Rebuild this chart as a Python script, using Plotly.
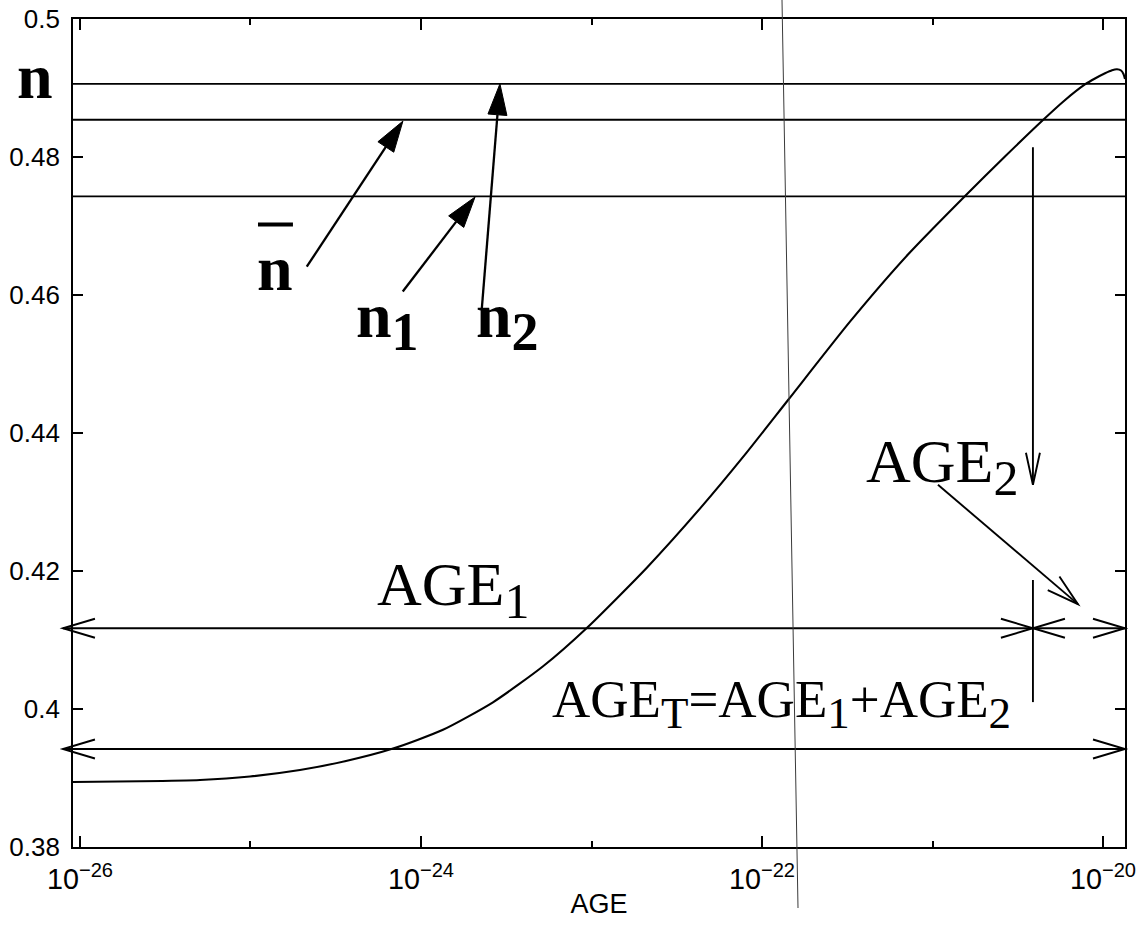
import math
import plotly.graph_objects as go

# ---- data ---------------------------------------------------------------
# n as a function of AGE; AGE is kept as its base-10 exponent
log_age = [-26.041, -25.648, -25.296, -25.003, -24.710, -24.446, -24.164, -23.871,
           -23.578, -23.284, -23.026, -22.674, -22.364, -22.100, -21.847, -21.484,
           -21.144, -20.809, -20.575, -20.352, -20.229, -20.106, -20.047, -19.988,
           -19.947, -19.918, -19.894, -19.880, -19.871]
n_curve = [0.38942, 0.38952, 0.38971, 0.39022, 0.39116, 0.39242, 0.39426, 0.39699,
           0.40097, 0.40619, 0.41178, 0.42052, 0.42904, 0.43686, 0.44478, 0.45613,
           0.46586, 0.47435, 0.48007, 0.48536, 0.48812, 0.49051, 0.49138, 0.49214,
           0.49258, 0.49272, 0.49254, 0.49203, 0.49130]

# reference levels of n
n_2 = 0.4906
n_bar = 0.4854
n_1 = 0.4743

# AGE span arrows: their levels and the AGE exponent splitting AGE1 / AGE2
age1_level = 0.4117
aget_level = 0.3942
age_split = -20.411

# ticks
x_tick_step = 2          # a labelled tick every second decade
y_ticks = [0.38, 0.40, 0.42, 0.44, 0.46, 0.48, 0.50]
y_tick_text = ["0.38", "0.4", "0.42", "0.44", "0.46", "0.48", "0.5"]

# ---- geometry -----------------------------------------------------------
FIG_W, FIG_H = 1137, 929
M_L, M_R, M_T, M_B = 73, 12, 19, 82
X_RANGE = (-26.041, -19.871)
Y_RANGE = (0.38, 0.50)
PLOT_W = FIG_W - M_L - M_R
PLOT_H = FIG_H - M_T - M_B
ARROW_LEFT = -26.10          # open arrow tips poke just past the left axis
ARROW_RIGHT = X_RANGE[1]


def to_px(e, v):
    """data (exponent, n) -> pixel position on the page"""
    x = M_L + (e - X_RANGE[0]) / (X_RANGE[1] - X_RANGE[0]) * PLOT_W
    y = M_T + (Y_RANGE[1] - v) / (Y_RANGE[1] - Y_RANGE[0]) * PLOT_H
    return x, y


def to_paper(x, y):
    return (x - M_L) / PLOT_W, (FIG_H - M_B - y) / PLOT_H


shapes = []
annotations = []
INK = "black"


def seg(p0, p1, width=1.9, color=INK):
    a, b = to_paper(*p0)
    c, d = to_paper(*p1)
    shapes.append(dict(type="line", xref="paper", yref="paper", x0=a, y0=b,
                       x1=c, y1=d, line=dict(color=color, width=width),
                       layer="above"))


def head(tail, tip, filled=False, length=32, half=9.5):
    """arrow head at `tip`, pointing away from `tail` (both in data units)"""
    x0, y0 = to_px(*tail)
    x1, y1 = to_px(*tip)
    d = math.hypot(x1 - x0, y1 - y0)
    ux, uy = (x1 - x0) / d, (y1 - y0) / d
    bx, by = x1 - length * ux, y1 - length * uy
    pts = [(bx - half * uy, by + half * ux), (x1, y1), (bx + half * uy, by - half * ux)]
    pp = [to_paper(*p) for p in pts]
    path = "M{:.5f},{:.5f} L{:.5f},{:.5f} L{:.5f},{:.5f}".format(
        pp[0][0], pp[0][1], pp[1][0], pp[1][1], pp[2][0], pp[2][1])
    if filled:
        path += " Z"
    shapes.append(dict(type="path", path=path, xref="paper", yref="paper",
                       line=dict(color=INK, width=1 if filled else 1.9),
                       fillcolor=INK if filled else "rgba(0,0,0,0)",
                       layer="above"))
    return bx, by


def arrow(tail, tip, filled=False, length=32, half=9.5):
    base = head(tail, tip, filled, length, half)
    seg(to_px(*tail), base if filled else to_px(*tip),
        width=2.3 if filled else 1.9)


def span(e0, e1, level):
    """horizontal double-headed open arrow"""
    seg(to_px(e0, level), to_px(e1, level))
    head((e1, level), (e0, level))
    head((e0, level), (e1, level))


def label(text, e, v, size, bold=False, family="Liberation Serif"):
    """text whose left edge sits at exponent e and whose baseline sits at n = v"""
    px_x, px_y = to_px(e, v)
    x, y = to_paper(px_x, px_y)
    annotations.append(dict(
        text="<b>" + text + "</b>" if bold else text,
        x=x, y=y, xref="paper", yref="paper", xanchor="left", yanchor="top",
        xshift=-3, yshift=0.891 * size + 2, showarrow=False,
        font=dict(family=family, size=size, color=INK)))


def sub(t, size):
    return "<sub><span style='font-size:{}px'>{}</span></sub>".format(size, t)


# ---- arrows and markers -------------------------------------------------
span(ARROW_LEFT, age_split, age1_level)          # AGE1
span(age_split, ARROW_RIGHT, age1_level)         # AGE2
span(ARROW_LEFT, ARROW_RIGHT, aget_level)        # AGE_T

# vertical marker at the AGE1/AGE2 split
arrow((age_split, 0.4814), (age_split, 0.4325), length=32, half=7)
seg(to_px(age_split, 0.4187), to_px(age_split, 0.4010))

# pointer from the AGE2 label
arrow((-20.968, 0.4325), (-20.147, 0.4152), length=32, half=9)

# pointers to the n levels
arrow((-24.670, 0.4641), (-24.106, 0.4852), filled=True, length=31, half=9.5)
arrow((-24.107, 0.4605), (-23.683, 0.4742), filled=True, length=31, half=9.5)
arrow((-23.644, 0.4578), (-23.537, 0.4906), filled=True, length=31, half=9.5)

# ---- labels -------------------------------------------------------------
label("n", -26.364, 0.48855, 64, bold=True)
label("n", -24.956, 0.4607, 64, bold=True)
seg(to_px(-24.956, 0.4702), to_px(-24.751, 0.4702), width=4)   # bar over n
label("n" + sub("1", 54), -24.375, 0.4539, 64, bold=True)
label("n" + sub("2", 54), -23.672, 0.4539, 64, bold=True)
label("AGE" + sub("1", 50), -24.252, 0.4151, 62)
label("AGE" + sub("2", 50), -21.384, 0.4328, 62)
label("AGE" + sub("T", 45) + "=AGE" + sub("1", 45) + "+AGE" + sub("2", 45),
      -23.226, 0.3988, 53)

# thin crease running down the sheet
a = to_paper(782, 0)
b = to_paper(798, 908)
shapes.append(dict(type="line", xref="paper", yref="paper", x0=a[0], y0=a[1],
                   x1=b[0], y1=b[1], line=dict(color="#3a3a3a", width=1),
                   layer="above"))

# ---- traces -------------------------------------------------------------
fig = go.Figure()
x_lo, x_hi = 10 ** X_RANGE[0], 10 ** X_RANGE[1]
for level in (n_2, n_bar, n_1):
    fig.add_trace(go.Scatter(x=[x_lo, x_hi], y=[level, level], mode="lines",
                             line=dict(color=INK, width=1.8),
                             hoverinfo="skip", showlegend=False))

fig.add_trace(go.Scatter(x=[10 ** e for e in log_age], y=n_curve, mode="lines",
                         line=dict(color=INK, width=2.1, shape="spline", smoothing=0.6),
                         showlegend=False))

axis_common = dict(showline=True, linecolor=INK, linewidth=1.7, mirror="ticks",
                   ticks="inside", tickcolor=INK, tickwidth=1.5,
                   showgrid=False, zeroline=False, automargin=False)

fig.update_layout(
    template="none",
    width=FIG_W, height=FIG_H, autosize=False,
    margin=dict(l=M_L, r=M_R, t=M_T, b=M_B, pad=0, autoexpand=False),
    paper_bgcolor="white", plot_bgcolor="white",
    xaxis=dict(type="log", range=list(X_RANGE), dtick=x_tick_step,
               exponentformat="power",
               tickfont=dict(family="Liberation Sans", size=23, color=INK),
               ticklen=11, ticklabelstandoff=7, ticklabeloverflow="allow",
               minor=dict(dtick=1, ticks="inside", ticklen=6, tickcolor=INK, tickwidth=1.5),
               title=dict(text="AGE", standoff=0,
                          font=dict(family="Liberation Sans", size=27, color=INK)),
               **axis_common),
    yaxis=dict(range=list(Y_RANGE), tickvals=y_ticks, ticktext=y_tick_text,
               tickfont=dict(family="Liberation Sans", size=26, color=INK),
               ticklen=10, ticklabelstandoff=6, **axis_common),
    shapes=shapes, annotations=annotations,
)

fig.write_html("out.html")
